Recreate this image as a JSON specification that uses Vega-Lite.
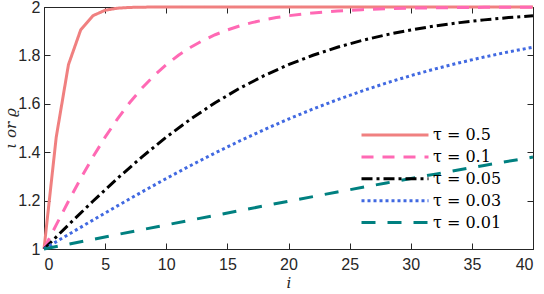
{
  "$schema": "https://vega.github.io/schema/vega-lite/v6.json",
  "width": 489,
  "height": 242,
  "autosize": {"type": "none"},
  "padding": {"left": 44, "top": 7, "right": 11, "bottom": 45},
  "background": "white",
  "config": {
    "view": {"stroke": "#262626", "strokeWidth": 1},
    "axis": {
      "grid": false,
      "domainColor": "#262626",
      "tickColor": "#262626",
      "tickSize": -6,
      "labelColor": "#262626",
      "labelFont": "Liberation Sans",
      "labelFontSize": 16,
      "titleColor": "#262626",
      "titleFont": "DejaVu Serif",
      "titleFontStyle": "italic",
      "titleFontWeight": "normal",
      "titleFontSize": 15
    }
  },
  "data": {"values": [
    {"i": 0, "v": 1.0, "s": "τ = 0.5"},
    {"i": 1, "v": 1.4621, "s": "τ = 0.5"},
    {"i": 2, "v": 1.7616, "s": "τ = 0.5"},
    {"i": 3, "v": 1.9051, "s": "τ = 0.5"},
    {"i": 4, "v": 1.964, "s": "τ = 0.5"},
    {"i": 5, "v": 1.9866, "s": "τ = 0.5"},
    {"i": 6, "v": 1.9951, "s": "τ = 0.5"},
    {"i": 7, "v": 1.9982, "s": "τ = 0.5"},
    {"i": 8, "v": 1.9993, "s": "τ = 0.5"},
    {"i": 9, "v": 1.9998, "s": "τ = 0.5"},
    {"i": 10, "v": 1.9999, "s": "τ = 0.5"},
    {"i": 40, "v": 2.0, "s": "τ = 0.5"},

    {"i": 0, "v": 1.0, "s": "τ = 0.1"},
    {"i": 1, "v": 1.0997, "s": "τ = 0.1"},
    {"i": 2, "v": 1.1974, "s": "τ = 0.1"},
    {"i": 3, "v": 1.2913, "s": "τ = 0.1"},
    {"i": 4, "v": 1.38, "s": "τ = 0.1"},
    {"i": 5, "v": 1.4621, "s": "τ = 0.1"},
    {"i": 6, "v": 1.537, "s": "τ = 0.1"},
    {"i": 7, "v": 1.6044, "s": "τ = 0.1"},
    {"i": 8, "v": 1.664, "s": "τ = 0.1"},
    {"i": 9, "v": 1.7163, "s": "τ = 0.1"},
    {"i": 10, "v": 1.7616, "s": "τ = 0.1"},
    {"i": 11, "v": 1.8005, "s": "τ = 0.1"},
    {"i": 12, "v": 1.8337, "s": "τ = 0.1"},
    {"i": 13, "v": 1.8617, "s": "τ = 0.1"},
    {"i": 14, "v": 1.8854, "s": "τ = 0.1"},
    {"i": 15, "v": 1.9051, "s": "τ = 0.1"},
    {"i": 16, "v": 1.9217, "s": "τ = 0.1"},
    {"i": 17, "v": 1.9354, "s": "τ = 0.1"},
    {"i": 18, "v": 1.9468, "s": "τ = 0.1"},
    {"i": 19, "v": 1.9562, "s": "τ = 0.1"},
    {"i": 20, "v": 1.964, "s": "τ = 0.1"},
    {"i": 22, "v": 1.9757, "s": "τ = 0.1"},
    {"i": 24, "v": 1.9837, "s": "τ = 0.1"},
    {"i": 26, "v": 1.989, "s": "τ = 0.1"},
    {"i": 28, "v": 1.9926, "s": "τ = 0.1"},
    {"i": 30, "v": 1.9951, "s": "τ = 0.1"},
    {"i": 32, "v": 1.9967, "s": "τ = 0.1"},
    {"i": 34, "v": 1.9978, "s": "τ = 0.1"},
    {"i": 36, "v": 1.9985, "s": "τ = 0.1"},
    {"i": 38, "v": 1.999, "s": "τ = 0.1"},
    {"i": 40, "v": 1.9993, "s": "τ = 0.1"},

    {"i": 0, "v": 1.0, "s": "τ = 0.05"},
    {"i": 2, "v": 1.0997, "s": "τ = 0.05"},
    {"i": 4, "v": 1.1974, "s": "τ = 0.05"},
    {"i": 6, "v": 1.2913, "s": "τ = 0.05"},
    {"i": 8, "v": 1.38, "s": "τ = 0.05"},
    {"i": 10, "v": 1.4621, "s": "τ = 0.05"},
    {"i": 12, "v": 1.537, "s": "τ = 0.05"},
    {"i": 14, "v": 1.6044, "s": "τ = 0.05"},
    {"i": 16, "v": 1.664, "s": "τ = 0.05"},
    {"i": 18, "v": 1.7163, "s": "τ = 0.05"},
    {"i": 20, "v": 1.7616, "s": "τ = 0.05"},
    {"i": 22, "v": 1.8005, "s": "τ = 0.05"},
    {"i": 24, "v": 1.8337, "s": "τ = 0.05"},
    {"i": 26, "v": 1.8617, "s": "τ = 0.05"},
    {"i": 28, "v": 1.8854, "s": "τ = 0.05"},
    {"i": 30, "v": 1.9051, "s": "τ = 0.05"},
    {"i": 32, "v": 1.9217, "s": "τ = 0.05"},
    {"i": 34, "v": 1.9354, "s": "τ = 0.05"},
    {"i": 36, "v": 1.9468, "s": "τ = 0.05"},
    {"i": 38, "v": 1.9562, "s": "τ = 0.05"},
    {"i": 40, "v": 1.964, "s": "τ = 0.05"},

    {"i": 0, "v": 1.0, "s": "τ = 0.03"},
    {"i": 2, "v": 1.0599, "s": "τ = 0.03"},
    {"i": 4, "v": 1.1194, "s": "τ = 0.03"},
    {"i": 6, "v": 1.1781, "s": "τ = 0.03"},
    {"i": 8, "v": 1.2355, "s": "τ = 0.03"},
    {"i": 10, "v": 1.2913, "s": "τ = 0.03"},
    {"i": 12, "v": 1.3452, "s": "τ = 0.03"},
    {"i": 14, "v": 1.3969, "s": "τ = 0.03"},
    {"i": 16, "v": 1.4462, "s": "τ = 0.03"},
    {"i": 18, "v": 1.493, "s": "τ = 0.03"},
    {"i": 20, "v": 1.537, "s": "τ = 0.03"},
    {"i": 22, "v": 1.5784, "s": "τ = 0.03"},
    {"i": 24, "v": 1.6169, "s": "τ = 0.03"},
    {"i": 26, "v": 1.6527, "s": "τ = 0.03"},
    {"i": 28, "v": 1.6858, "s": "τ = 0.03"},
    {"i": 30, "v": 1.7163, "s": "τ = 0.03"},
    {"i": 32, "v": 1.7443, "s": "τ = 0.03"},
    {"i": 34, "v": 1.7699, "s": "τ = 0.03"},
    {"i": 36, "v": 1.7932, "s": "τ = 0.03"},
    {"i": 38, "v": 1.8144, "s": "τ = 0.03"},
    {"i": 40, "v": 1.8337, "s": "τ = 0.03"},

    {"i": 0, "v": 1.0, "s": "τ = 0.01"},
    {"i": 4, "v": 1.04, "s": "τ = 0.01"},
    {"i": 8, "v": 1.0798, "s": "τ = 0.01"},
    {"i": 12, "v": 1.1194, "s": "τ = 0.01"},
    {"i": 16, "v": 1.1586, "s": "τ = 0.01"},
    {"i": 20, "v": 1.1974, "s": "τ = 0.01"},
    {"i": 24, "v": 1.2355, "s": "τ = 0.01"},
    {"i": 28, "v": 1.2729, "s": "τ = 0.01"},
    {"i": 32, "v": 1.3095, "s": "τ = 0.01"},
    {"i": 36, "v": 1.3452, "s": "τ = 0.01"},
    {"i": 40, "v": 1.38, "s": "τ = 0.01"}
  ]},
  "layer": [
    {
      "mark": {"type": "line", "strokeWidth": 3, "clip": false},
      "encoding": {
        "x": {"field": "i", "type": "quantitative",
              "scale": {"domain": [0, 40], "nice": false},
              "axis": {"orient": "bottom", "values": [0,5,10,15,20,25,30,35,40], "title": "i", "titlePadding": 3, "labelPadding": 13}},
        "y": {"field": "v", "type": "quantitative",
              "scale": {"domain": [1, 2], "nice": false},
              "axis": {"orient": "left", "values": [1,1.2,1.4,1.6,1.8,2], "format": "~g", "title": "ι or ϱ", "titlePadding": -1, "labelPadding": 10}},
        "color": {"field": "s", "type": "nominal",
                  "scale": {"domain": ["τ = 0.5", "τ = 0.1", "τ = 0.05", "τ = 0.03", "τ = 0.01"],
                            "range": ["#F08080", "#FF69B4", "#000000", "#4169E1", "#008080"]},
                  "legend": {
                    "title": null, "orient": "none", "legendX": 316, "legendY": 118,
                    "symbolType": "stroke", "symbolSize": 4489, "symbolStrokeWidth": 3,
                    "clipHeight": 20, "rowPadding": 1.9, "labelOffset": 3,
                    "labelFont": "DejaVu Serif", "labelFontSize": 16, "labelColor": "#000000",
                    "padding": 0
                  }},
        "strokeDash": {"field": "s", "type": "nominal",
                  "scale": {"domain": ["τ = 0.5", "τ = 0.1", "τ = 0.05", "τ = 0.03", "τ = 0.01"],
                            "range": [[1, 0], [12, 9], [11, 4, 3, 4], [3, 3], [14, 12]]},
                  "legend": null},
        "order": {"field": "i", "type": "quantitative"}
      }
    },
    {
      "mark": {"type": "point", "opacity": 0},
      "encoding": {
        "x": {"field": "i", "type": "quantitative",
              "axis": {"orient": "top", "values": [0,5,10,15,20,25,30,35,40], "labels": false, "title": null, "domain": false}},
        "y": {"field": "v", "type": "quantitative",
              "axis": {"orient": "right", "values": [1,1.2,1.4,1.6,1.8,2], "labels": false, "title": null, "domain": false}}
      }
    }
  ],
  "resolve": {"axis": {"x": "independent", "y": "independent"}}
}
